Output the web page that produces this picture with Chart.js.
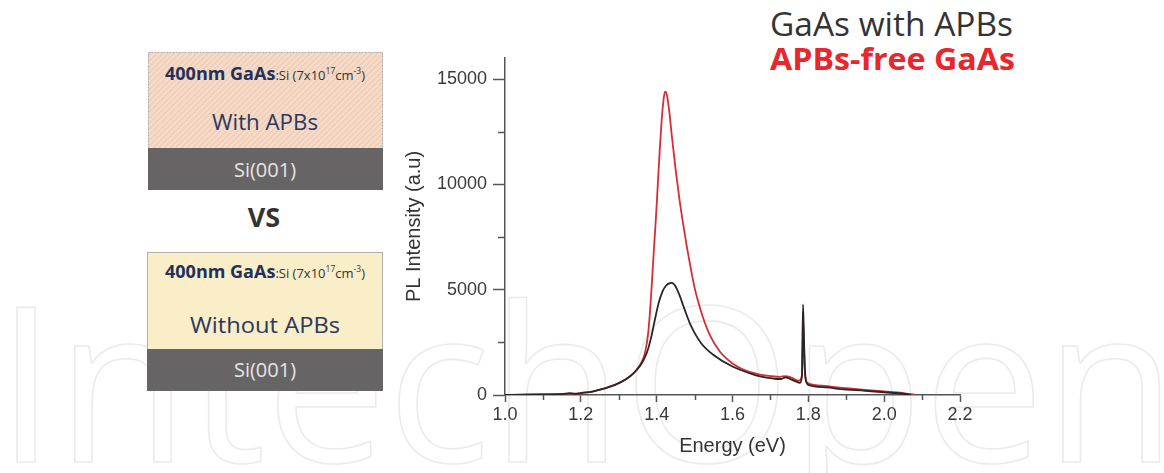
<!DOCTYPE html>
<html>
<head>
<meta charset="utf-8">
<script src="https://cdn.jsdelivr.net/npm/chart.js@4.4.0/dist/chart.umd.min.js"></script>
<style>
  html,body{margin:0;padding:0;background:#fff;overflow:hidden;}
  #wrap{position:relative;width:1164px;height:473px;}
  #deco{position:absolute;left:0;top:0;}
  #c{position:absolute;left:0;top:0;}
</style>
</head>
<body>
<div id="wrap">
<svg id="deco" width="1164" height="473" xmlns="http://www.w3.org/2000/svg">
  <defs>
    <pattern id="hatch" width="4" height="4" patternUnits="userSpaceOnUse" patternTransform="rotate(45)">
      <rect width="4" height="4" fill="#f6dccb"/>
      <rect width="1.5" height="4" fill="#f0cbb3"/>
    </pattern>
  </defs>
  <!-- watermark -->
  <text x="-4" y="462" font-family="Open Sans" font-size="216" fill="none" stroke="#ebebeb" stroke-width="1.6">IntechOpen</text>

  <!-- box 1 -->
  <rect x="148.5" y="52.5" width="234" height="96" fill="url(#hatch)" stroke="#a8a8a8" stroke-width="1" stroke-dasharray="2 1"/>
  <rect x="148" y="148" width="235" height="42" fill="#676465"/>
  <text x="265" y="80" text-anchor="middle" font-family="Open Sans" fill="#22305a">
    <tspan font-weight="bold" font-size="18">400nm GaAs</tspan><tspan font-size="13" fill="#333">:Si (7x10</tspan><tspan font-size="8.5" dy="-6" fill="#333">17</tspan><tspan font-size="13" dy="6" fill="#333">cm</tspan><tspan font-size="8.5" dy="-6" fill="#333">-3</tspan><tspan font-size="13" dy="6" fill="#333">)</tspan>
  </text>
  <text x="265" y="130" text-anchor="middle" font-family="Open Sans" font-size="21" fill="#2b3860" textLength="106" lengthAdjust="spacingAndGlyphs">With APBs</text>
  <text x="265" y="177" text-anchor="middle" font-family="Open Sans" font-size="20" fill="#e6e6e6">Si(001)</text>

  <!-- VS -->
  <text x="264" y="227" text-anchor="middle" font-family="Open Sans" font-weight="bold" font-size="27" fill="#333">VS</text>

  <!-- box 2 -->
  <rect x="147.5" y="252.5" width="235" height="97" fill="#f9eec8" stroke="#b0b0b0" stroke-width="1"/>
  <rect x="147" y="349" width="236" height="42" fill="#676465"/>
  <text x="265" y="278" text-anchor="middle" font-family="Open Sans" fill="#22305a">
    <tspan font-weight="bold" font-size="18">400nm GaAs</tspan><tspan font-size="13" fill="#333">:Si (7x10</tspan><tspan font-size="8.5" dy="-6" fill="#333">17</tspan><tspan font-size="13" dy="6" fill="#333">cm</tspan><tspan font-size="8.5" dy="-6" fill="#333">-3</tspan><tspan font-size="13" dy="6" fill="#333">)</tspan>
  </text>
  <text x="265" y="333" text-anchor="middle" font-family="Open Sans" font-size="21" fill="#2b3860" textLength="150" lengthAdjust="spacingAndGlyphs">Without APBs</text>
  <text x="265" y="377" text-anchor="middle" font-family="Open Sans" font-size="20" fill="#e6e6e6">Si(001)</text>

  <!-- legend text -->
  <text x="770" y="36" font-family="Open Sans" font-size="32" fill="#333" textLength="243" lengthAdjust="spacingAndGlyphs">GaAs with APBs</text>
  <text x="770" y="70" font-family="Open Sans" font-weight="bold" font-size="30" fill="#e8262b" textLength="245" lengthAdjust="spacingAndGlyphs">APBs-free GaAs</text>
</svg>
<canvas id="c" width="1164" height="473"></canvas>
</div>
<script>
// ---- data ----
const apbEnergy = [1.00,1.05,1.10,1.15,1.17,1.19,1.20,1.23,1.26,1.29,1.32,1.34,1.355,1.365,1.375,1.385,1.395,1.405,1.415,1.425,1.435,1.44,1.45,1.46,1.47,1.48,1.49,1.50,1.52,1.55,1.60,1.65,1.673,1.70,1.717,1.73,1.74,1.75,1.765,1.778,1.783,1.786,1.789,1.792,1.796,1.80,1.85,1.885,1.95,2.00,2.05,2.07];
const apbIntensity = [0,20,30,40,90,50,90,160,300,480,760,1050,1350,1650,2050,2700,3550,4350,4900,5200,5310,5320,5150,4750,4250,3750,3300,2950,2400,1900,1350,1000,880,800,760,770,840,780,660,580,900,4300,2300,900,560,480,360,280,200,130,60,20];

const freeEnergy = [1.00,1.05,1.10,1.15,1.20,1.23,1.26,1.29,1.32,1.34,1.355,1.365,1.372,1.378,1.383,1.388,1.393,1.398,1.403,1.408,1.413,1.418,1.422,1.427,1.433,1.44,1.45,1.46,1.47,1.48,1.49,1.50,1.51,1.52,1.54,1.567,1.60,1.63,1.67,1.70,1.725,1.74,1.755,1.775,1.783,1.787,1.79,1.794,1.80,1.85,1.90,1.95,2.00,2.05,2.08];
const freeIntensity = [0,20,30,50,90,160,300,480,760,1050,1400,1750,2250,3000,4100,5500,7000,8400,10000,11600,13000,14000,14400,14250,13500,12300,10700,9300,8100,7000,6000,5100,4400,3800,2850,2050,1500,1200,980,900,860,900,830,680,900,3300,1400,700,560,420,320,240,170,90,20];

const xTickValues = [1.0,1.2,1.4,1.6,1.8,2.0,2.2];
const yTickValues = [0,5000,10000,15000];
const xMinorTicks = [1.1,1.3,1.5,1.7,1.9,2.1];
const yMinorTicks = [2500,7500,12500];

const axisColor = '#555';
const tickFont = {family:'Liberation Sans', size:18};
const titleFont = {family:'Liberation Sans', size:20};

const minorTickPlugin = {
  id:'minorTicks',
  afterDraw(chart){
    const {ctx, scales:{x, y}, chartArea} = chart;
    ctx.save();
    ctx.strokeStyle = axisColor;
    ctx.lineWidth = 1.5;
    yMinorTicks.forEach(v=>{
      const py = Math.round(y.getPixelForValue(v)) + 0.5;
      ctx.beginPath(); ctx.moveTo(chartArea.left - 7, py); ctx.lineTo(chartArea.left, py); ctx.stroke();
    });
    xMinorTicks.forEach(v=>{
      const px = Math.round(x.getPixelForValue(v)) + 0.5;
      ctx.beginPath(); ctx.moveTo(px, chartArea.bottom); ctx.lineTo(px, chartArea.bottom + 5); ctx.stroke();
    });
    ctx.restore();
  }
};

new Chart(document.getElementById('c'), {
  type:'line',
  data:{
    datasets:[
      {label:'GaAs with APBs', data: apbEnergy.map((e,i)=>({x:e, y:apbIntensity[i]})),
       borderColor:'#262626', borderWidth:1.8, pointRadius:0, cubicInterpolationMode:'monotone', fill:false},
      {label:'APBs-free GaAs', data: freeEnergy.map((e,i)=>({x:e, y:freeIntensity[i]})),
       borderColor:'#d42e38', borderWidth:1.8, pointRadius:0, cubicInterpolationMode:'monotone', fill:false}
    ]
  },
  options:{
    responsive:false, animation:false, devicePixelRatio:1,
    layout:{padding:{left:400, right:204, top:58, bottom:15}},
    plugins:{legend:{display:false}, tooltip:{enabled:false}},
    scales:{
      x:{
        type:'linear', min:1.0, max:2.2,
        afterBuildTicks:s=>{ s.ticks = xTickValues.map(v=>({value:v})); },
        ticks:{autoSkip:false, maxRotation:0,
               callback:v=>Number(v).toFixed(1), font:tickFont, color:'#3a3a3a', padding:2},
        grid:{drawOnChartArea:false, drawTicks:true, tickLength:7, tickColor:axisColor, tickWidth:1.5},
        border:{display:true, color:axisColor, width:1.5},
        title:{display:true, text:'Energy (eV)', font:titleFont, color:'#333', padding:{top:2, bottom:0}},
        afterFit:s=>{s.height = 63;}
      },
      y:{
        type:'linear', min:0, max:16000,
        afterBuildTicks:s=>{ s.ticks = yTickValues.map(v=>({value:v})); },
        ticks:{font:tickFont, color:'#3a3a3a', padding:6, callback:v=>String(v)},
        grid:{drawOnChartArea:false, drawTicks:true, tickLength:12, tickColor:axisColor, tickWidth:1.5},
        border:{display:true, color:axisColor, width:1.5},
        title:{display:true, text:'PL Intensity (a.u)', font:titleFont, color:'#333', padding:{top:2, bottom:0}},
        afterFit:s=>{s.width = 105;}
      }
    }
  },
  plugins:[minorTickPlugin]
});
</script>
</body>
</html>
